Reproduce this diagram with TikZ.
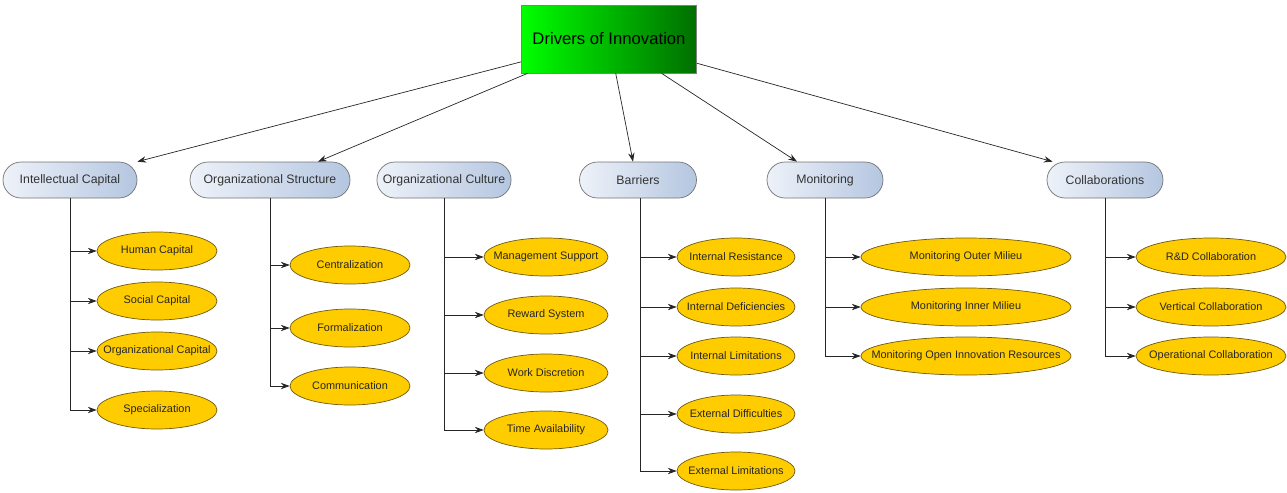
\documentclass[tikz,border=0pt]{standalone}
\usepackage{fontspec}
\setmainfont{Liberation Sans}
\usepackage{tikz}
\usepackage{xcolor}
\usetikzlibrary{shapes,arrows,arrows.meta}
\definecolor{rootlight}{HTML}{00FF00}
\definecolor{rootdark}{HTML}{006F00}
\definecolor{catlight}{HTML}{EEF2F9}
\definecolor{catdark}{HTML}{B4C6E0}
\definecolor{leafyellow}{HTML}{FFCC00}
\definecolor{leafborder}{HTML}{6E5A10}
\tikzstyle{rootbox} = [rectangle, minimum width=3.5cm, minimum height=1.36cm, text centered, draw=gray,
left color=rootlight, right color=rootdark, font=\fontsize{9.5}{11}\selectfont]
\tikzstyle{catbox} = [rectangle, rounded corners=0.36cm, minimum height=0.72cm, text centered,
draw=black!55, left color=catlight, right color=catdark, text=black!80, font=\fontsize{7}{8}\selectfont]
\tikzstyle{leaf} = [ellipse, minimum height=0.76cm, inner xsep=-0.45cm, inner ysep=0pt, draw=leafborder,
fill=leafyellow, text=black!85, font=\fontsize{6.2}{7}\selectfont]
\tikzstyle{arrow} = [thin, ->, >={Stealth[length=5pt,width=3.6pt]}, draw=black!85]

\begin{document}
\begin{tikzpicture}
        \useasboundingbox (0,0) rectangle (25.74,-9.84);

        \node[rootbox] (root) at (12.18,-0.78) {Drivers of Innovation};

        % Categories
        \node[catbox, minimum width=2.68cm] (ic) at (1.40,-3.6) {Intellectual Capital};
        \node[catbox, minimum width=3.2cm] (os) at (5.40,-3.6) {Organizational Structure};
        \node[catbox, minimum width=2.64cm] (oc) at (8.88,-3.6) {Organizational Culture};
        \node[catbox, minimum width=2.34cm] (bar) at (12.76,-3.6) {Barriers};
        \node[catbox, minimum width=2.32cm] (mon) at (16.50,-3.6) {Monitoring};
        \node[catbox, minimum width=2.32cm] (col) at (22.10,-3.6) {Collaborations};

        % Intellectual Capital
        \node[leaf, minimum width=2.4cm] (ic1) at (3.14,-5.02) {Human Capital};
        \node[leaf, minimum width=2.4cm] (ic2) at (3.14,-6.02) {Social Capital};
        \node[leaf, minimum width=2.4cm] (ic3) at (3.14,-7.02) {Organizational Capital};
        \node[leaf, minimum width=2.4cm] (ic4) at (3.14,-8.20) {Specialization};

        % Organizational Structure
        \node[leaf, minimum width=2.4cm] (os1) at (7.00,-5.30) {Centralization};
        \node[leaf, minimum width=2.4cm] (os2) at (7.00,-6.56) {Formalization};
        \node[leaf, minimum width=2.4cm] (os3) at (7.00,-7.72) {Communication};

        % Organizational Culture
        \node[leaf, minimum width=2.48cm] (oc1) at (10.92,-5.14) {Management Support};
        \node[leaf, minimum width=2.48cm] (oc2) at (10.92,-6.30) {Reward System};
        \node[leaf, minimum width=2.48cm] (oc3) at (10.92,-7.46) {Work Discretion};
        \node[leaf, minimum width=2.48cm] (oc4) at (10.92,-8.60) {Time Availability};

        % Barriers
        \node[leaf, minimum width=2.36cm] (bar1) at (14.72,-5.14) {Internal Resistance};
        \node[leaf, minimum width=2.36cm] (bar2) at (14.72,-6.14) {Internal Deficiencies};
        \node[leaf, minimum width=2.36cm] (bar3) at (14.72,-7.12) {Internal Limitations};
        \node[leaf, minimum width=2.36cm] (bar4) at (14.72,-8.28) {External Difficulties};
        \node[leaf, minimum width=2.36cm] (bar5) at (14.72,-9.42) {External Limitations};

        % Monitoring
        \node[leaf, minimum width=4.2cm] (mon1) at (19.32,-5.14) {Monitoring Outer Milieu};
        \node[leaf, minimum width=4.2cm] (mon2) at (19.32,-6.14) {Monitoring Inner Milieu};
        \node[leaf, minimum width=4.2cm] (mon3) at (19.32,-7.12) {Monitoring Open Innovation Resources};

        % Collaborations
        \node[leaf, minimum width=3.0cm] (col1) at (24.22,-5.14) {R\&D Collaboration};
        \node[leaf, minimum width=3.0cm] (col2) at (24.22,-6.14) {Vertical Collaboration};
        \node[leaf, minimum width=3.0cm] (col3) at (24.22,-7.12) {Operational Collaboration};

        % Arrows
        \draw[arrow] (root) -- (ic.north east);
        \draw[arrow] (root) -- ([xshift=0.96cm]os.north);
        \draw[arrow] (root) -- ([xshift=-0.1cm]bar.north);
        \draw[arrow] (root) -- ([xshift=-0.56cm]mon.north);
        \draw[arrow] (root) -- ([xshift=0.12cm]col.north west);

        % Branches
        \foreach \i in {1,...,4} \draw[arrow] (ic.south) |- (ic\i.west);
        \foreach \i in {1,...,3} \draw[arrow] (os.south) |- (os\i.west);
        \foreach \i in {1,...,4} \draw[arrow] (oc.south) |- (oc\i.west);
        \foreach \i in {1,...,5} \draw[arrow] ([xshift=0.04cm]bar.south) |- (bar\i.west);
        \foreach \i in {1,...,3} \draw[arrow] (mon.south) |- (mon\i.west);
        \foreach \i in {1,...,3} \draw[arrow] (col.south) |- (col\i.west);

    \end{tikzpicture}
\end{document}
